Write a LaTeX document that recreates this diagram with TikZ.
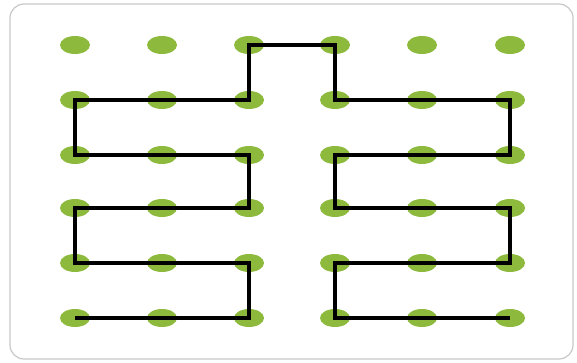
\documentclass[tikz,border=0pt]{standalone}
\usetikzlibrary{shapes.geometric}
\definecolor{dotgreen}{HTML}{8DBA3C}
\definecolor{framegray}{HTML}{C8C8C8}
\tikzset{
  dot/.style={ellipse, fill=dotgreen, minimum width=30pt, minimum height=18pt, inner sep=0pt},
  route/.style={line width=3.6pt, black, line join=miter},
  frame/.style={draw=framegray, line width=1.2pt, rounded corners=14pt}
}
\begin{document}
\begin{tikzpicture}[x=1pt,y=-1pt]
\useasboundingbox (0,0) rectangle (577,363);
\fill[white] (0,0) rectangle (577,363);
\draw[frame] (10,4) rectangle (573,359);
\foreach \c/\x in {1/75,2/162,3/249,4/335,5/422,6/510}{
  \foreach \r/\y in {1/45,2/100,3/155,4/208,5/263,6/318}{
    \node[dot] (d\c\r) at (\x,\y) {};
  }
}
\draw[route] (d16.center) -- (d36.center) -- (d35.center) -- (d15.center) -- (d14.center) -- (d34.center) -- (d33.center) -- (d13.center) -- (d12.center) -- (d32.center) -- (d31.center) -- (d41.center) -- (d42.center) -- (d62.center) -- (d63.center) -- (d43.center) -- (d44.center) -- (d64.center) -- (d65.center) -- (d45.center) -- (d46.center) -- (d66.center);
\end{tikzpicture}
\end{document}
